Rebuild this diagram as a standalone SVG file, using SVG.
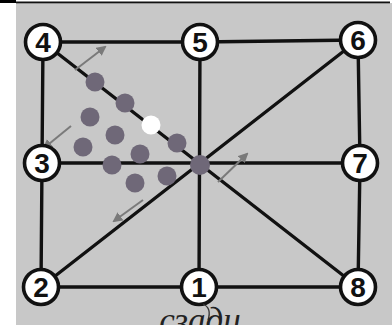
<svg xmlns="http://www.w3.org/2000/svg" width="392" height="325" viewBox="0 0 392 325">
<defs>
<style>
.edge{stroke:#111;stroke-width:3.4;fill:none;stroke-linecap:round}
.node circle{fill:#fff;stroke:#111;stroke-width:3.6}
.node text{font-family:"Liberation Sans",Arial,sans-serif;font-weight:bold;font-size:28px;fill:#111;text-anchor:middle}
.dot{fill:#6f6878}
.arr{stroke:#7a7a7a;stroke-width:2;fill:none;marker-end:url(#ah)}
</style>
<marker id="ah" viewBox="0 0 10 10" refX="8" refY="5" markerWidth="5" markerHeight="5" orient="auto" markerUnits="strokeWidth">
<path d="M0,0 L10,5 L0,10 z" fill="#7a7a7a"/>
</marker>
</defs>
<rect x="0" y="0" width="392" height="325" fill="#fff"/>
<rect x="16" y="3" width="376" height="322" fill="#c8c8c8"/>
<rect x="0" y="0" width="16" height="3" fill="#000"/>
<rect x="16" y="1.5" width="374" height="1.8" fill="#111"/>
<g id="connectors">
<line class="edge" x1="43" y1="42" x2="200" y2="42"/>
<line class="edge" x1="200" y1="42" x2="358" y2="40"/>
<line class="edge" x1="43" y1="42" x2="42" y2="163"/>
<line class="edge" x1="42" y1="163" x2="41" y2="287"/>
<line class="edge" x1="41" y1="287" x2="199" y2="287"/>
<line class="edge" x1="199" y1="287" x2="358" y2="287"/>
<line class="edge" x1="358" y1="40" x2="360" y2="163"/>
<line class="edge" x1="360" y1="163" x2="358" y2="287"/>
<line class="edge" x1="200" y1="42" x2="199" y2="287"/>
<line class="edge" x1="42" y1="163" x2="360" y2="163"/>
<line class="edge" x1="43" y1="42" x2="358" y2="287"/>
<line class="edge" x1="41" y1="287" x2="358" y2="40"/>
</g>
<g id="pieces">
<circle class="dot" cx="95" cy="82" r="9.5"/>
<circle class="dot" cx="125" cy="103" r="9.5"/>
<circle cx="151" cy="125" r="9.5" fill="#fff"/>
<circle class="dot" cx="177" cy="143" r="9.5"/>
<circle class="dot" cx="200" cy="165" r="10"/>
<circle class="dot" cx="90" cy="117" r="9.5"/>
<circle class="dot" cx="115" cy="135" r="9.5"/>
<circle class="dot" cx="83" cy="147" r="9.5"/>
<circle class="dot" cx="140" cy="154" r="9.5"/>
<circle class="dot" cx="112" cy="165" r="9.5"/>
<circle class="dot" cx="167" cy="176" r="9.5"/>
<circle class="dot" cx="135" cy="183" r="9.5"/>
</g>
<g id="arrows">
<line class="arr" x1="75" y1="70" x2="105" y2="47"/>
<line class="arr" x1="71" y1="126" x2="44" y2="148"/>
<line class="arr" x1="143" y1="200" x2="114" y2="221"/>
<line class="arr" x1="218" y1="182" x2="247" y2="154"/>
</g>
<g id="n4" class="node"><circle cx="43" cy="42" r="17.5"/><text x="43" y="52">4</text></g>
<g id="n5" class="node"><circle cx="200" cy="42" r="17.5"/><text x="200" y="52">5</text></g>
<g id="n6" class="node"><circle cx="358" cy="40" r="17.5"/><text x="358" y="50">6</text></g>
<g id="n3" class="node"><circle cx="42" cy="163" r="17.5"/><text x="42" y="173">3</text></g>
<g id="n7" class="node"><circle cx="360" cy="163" r="17.5"/><text x="360" y="173">7</text></g>
<g id="n2" class="node"><circle cx="41" cy="287" r="17.5"/><text x="41" y="297">2</text></g>
<g id="n1" class="node"><circle cx="199" cy="287" r="17.5"/><text x="199" y="297">1</text></g>
<g id="n8" class="node"><circle cx="358" cy="287" r="17.5"/><text x="358" y="297">8</text></g>
<path d="M203,304 Q212,308 208,320" stroke="#333" stroke-width="1.3" fill="none"/>
<text x="200" y="332" font-family="'Liberation Serif','Times New Roman',serif" font-style="italic" font-size="35" fill="#222" text-anchor="middle">сзади</text>
</svg>
